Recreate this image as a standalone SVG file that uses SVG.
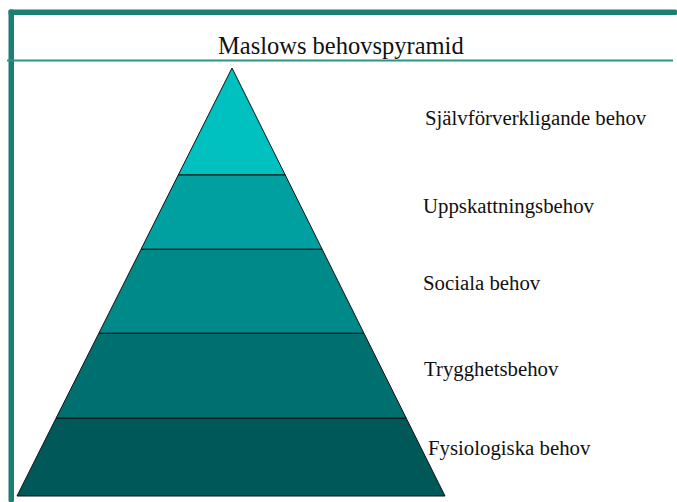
<svg xmlns="http://www.w3.org/2000/svg" width="677" height="502" viewBox="0 0 677 502">
<style>
.lbl{font-family:"Liberation Serif","Times New Roman",serif;font-size:20.8px;fill:#111}
.ttl{font-family:"Liberation Serif","Times New Roman",serif;font-size:24.5px;fill:#111}
.lay{stroke:#111;stroke-width:1}
</style>
<rect width="677" height="502" fill="#fff"/>
<g id="frame">
<rect x="8.5" y="9.5" width="668.5" height="5.5" rx="1.5" fill="#1b7f72"/>
<rect x="8.5" y="9.5" width="5.5" height="492.5" rx="1.5" fill="#1b7f72"/>
<line x1="7" y1="60.5" x2="673" y2="60.5" stroke="#2a9585" stroke-width="2"/>
</g>
<text id="title" class="ttl" x="218" y="53.5">Maslows behovspyramid</text>
<g id="layer1"><polygon class="lay" fill="#00c0c0" points="232,68 285.25,175 178.25,175"/></g>
<g id="layer2"><polygon class="lay" fill="#00a0a0" points="178.25,175 285.25,175 322.2,249.3 141,249.3"/></g>
<g id="layer3"><polygon class="lay" fill="#008989" points="141,249.3 322.2,249.3 364,333.3 98.8,333.3"/></g>
<g id="layer4"><polygon class="lay" fill="#006f6f" points="98.8,333.3 364,333.3 406.3,418.3 56,418.3"/></g>
<g id="layer5"><polygon class="lay" fill="#005858" points="56,418.3 406.3,418.3 445,496 17,496"/></g>
<g id="labels">
<text class="lbl" x="425" y="125">Självförverkligande behov</text>
<text class="lbl" x="423" y="213">Uppskattningsbehov</text>
<text class="lbl" x="423" y="290">Sociala behov</text>
<text class="lbl" x="424" y="376">Trygghetsbehov</text>
<text class="lbl" x="428" y="455">Fysiologiska behov</text>
</g>
</svg>
